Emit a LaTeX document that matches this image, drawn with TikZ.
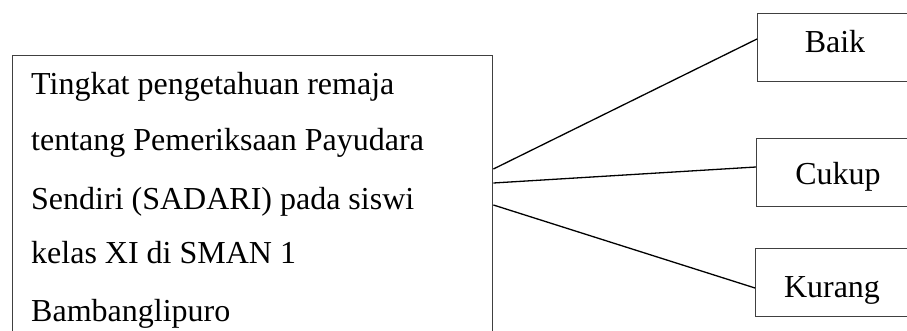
\documentclass[tikz,border=0pt]{standalone}
\usepackage{fontspec}
\setmainfont{Liberation Serif}
\begin{document}
\begin{tikzpicture}[x=1pt,y=-1pt,
  frame/.style={draw=black!75,line width=1.4pt,inner sep=0pt,anchor=north west},
  catbox/.style={frame,minimum width=156pt,minimum height=68pt},
  txt/.style={inner sep=0pt,anchor=base west,font=\fontsize{32}{38}\selectfont},
  cattxt/.style={inner sep=0pt,anchor=base,font=\fontsize{32}{38}\selectfont},
  link/.style={draw=black,line width=1.3pt}]
\clip (0,0) rectangle (907,331);
\fill[white] (0,0) rectangle (907,331);

% main description box (runs past the lower edge)
\node[frame,minimum width=480pt,minimum height=320pt] (main) at (12,55) {};
\node[txt] (l1) at (31,95)  {Tingkat pengetahuan remaja};
\node[txt] (l2) at (31,151) {tentang Pemeriksaan Payudara};
\node[txt] (l3) at (31,209) {Sendiri (SADARI) pada siswi};
\node[txt] (l4) at (31,263) {kelas XI di SMAN 1};
\node[txt] (l5) at (31,321) {Bambanglipuro};

% category boxes (run past the right edge)
\node[catbox] (baik)   at (757,13)  {};
\node[catbox] (cukup)  at (756,138) {};
\node[catbox] (kurang) at (755,248) {};
\node[cattxt] (tbaik)   at (835,53)  {Baik};
\node[cattxt] (tcukup)  at (838,185) {Cukup};
\node[cattxt] (tkurang) at (832,297) {Kurang};

% connectors
\draw[link] (main.east |- 0,169) -- (baik.west |- 0,39);
\draw[link] (main.east |- 0,183) -- (cukup.west |- 0,167);
\draw[link] (main.east |- 0,205) -- (kurang.west |- 0,288);
\end{tikzpicture}
\end{document}
